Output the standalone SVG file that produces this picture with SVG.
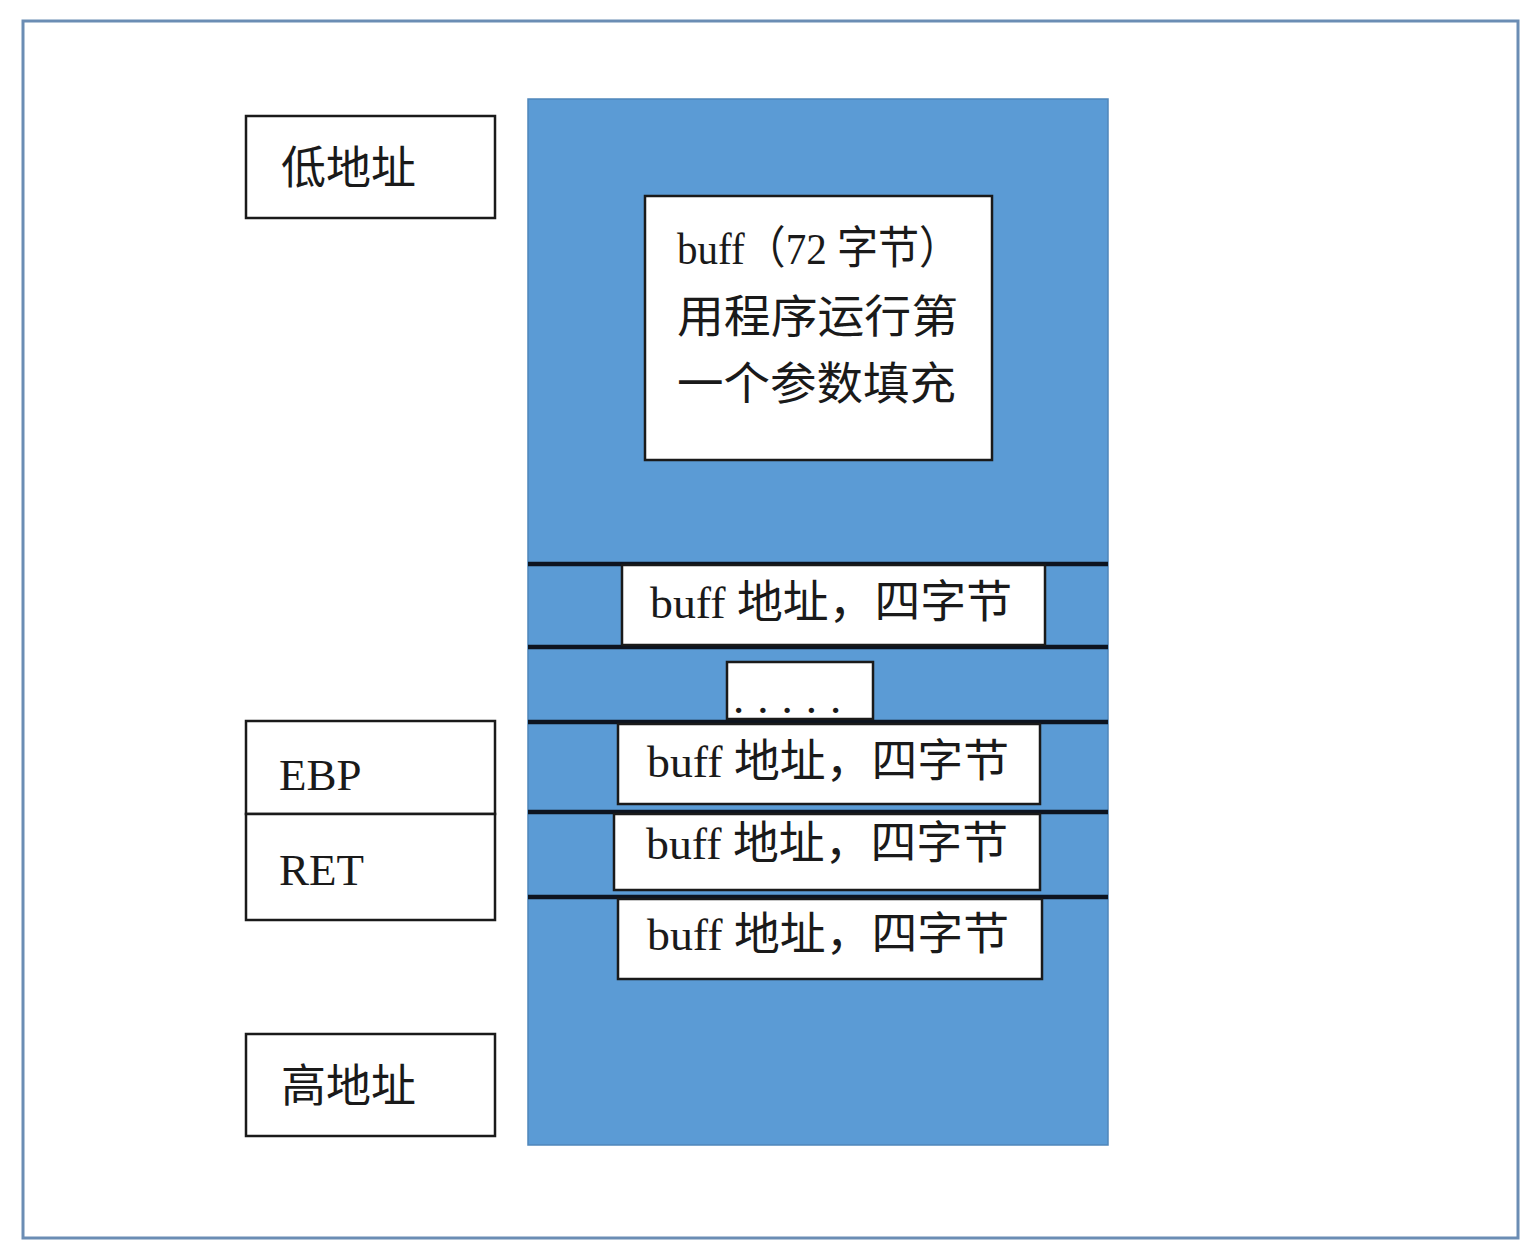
<svg xmlns="http://www.w3.org/2000/svg" width="1540" height="1260" viewBox="0 0 1540 1260">
<style>
.frame{fill:#ffffff;stroke:#6b8db4;stroke-width:3}
.col{fill:#5b9bd5;stroke:#4f86ba;stroke-width:1.5}
.box{fill:#ffffff;stroke:#1a1a1a;stroke-width:2.5}
.sep{stroke:#0d1420;stroke-width:4.5}
.t{font-family:"Liberation Serif","Noto Sans CJK SC",serif;font-size:45px;fill:#1a1a1a}
</style>
<rect width="1540" height="1260" fill="#ffffff"/>
<rect class="frame" x="23" y="21" width="1495" height="1217"/>
<g id="stack">
<rect class="col" x="528" y="99" width="580" height="1046"/>
</g>
<g id="separators">
<line class="sep" x1="528" y1="564" x2="1108" y2="564"/>
<line class="sep" x1="528" y1="647" x2="1108" y2="647"/>
<line class="sep" x1="528" y1="722" x2="1108" y2="722"/>
<line class="sep" x1="528" y1="812" x2="1108" y2="812"/>
<line class="sep" x1="528" y1="897" x2="1108" y2="897"/>
</g>
<g id="connectors"></g>
<g id="low-addr">
<rect class="box" x="246" y="116" width="249" height="102"/>
<text class="t" x="281" y="184">低地址</text>
</g>
<g id="ebp">
<rect class="box" x="246" y="721" width="249" height="93"/>
<text class="t" x="279" y="790">EBP</text>
</g>
<g id="ret">
<rect class="box" x="246" y="814" width="249" height="106"/>
<text class="t" x="279" y="885">RET</text>
</g>
<g id="high-addr">
<rect class="box" x="246" y="1034" width="249" height="102"/>
<text class="t" x="281" y="1102">高地址</text>
</g>
<g id="buff">
<rect class="box" x="645" y="196" width="347" height="264"/>
<text class="t" x="677" y="264" textLength="283" lengthAdjust="spacingAndGlyphs">buff（72 字节）</text>
<text class="t" x="677" y="333" textLength="281" lengthAdjust="spacingAndGlyphs">用程序运行第</text>
<text class="t" x="677" y="400" textLength="279" lengthAdjust="spacingAndGlyphs">一个参数填充</text>
</g>
<g id="addr1">
<rect class="box" x="622" y="565" width="423" height="80"/>
<text class="t" x="650" y="618" textLength="362" lengthAdjust="spacingAndGlyphs">buff 地址，四字节</text>
</g>
<g id="ellipsis">
<rect class="box" x="727" y="662" width="146" height="57"/>
<text class="t" x="733" y="713" letter-spacing="13">.....</text>
</g>
<g id="addr2">
<rect class="box" x="618" y="724" width="422" height="80"/>
<text class="t" x="647" y="777" textLength="362" lengthAdjust="spacingAndGlyphs">buff 地址，四字节</text>
</g>
<g id="addr3">
<rect class="box" x="614" y="814" width="426" height="76"/>
<text class="t" x="646" y="859" textLength="362" lengthAdjust="spacingAndGlyphs">buff 地址，四字节</text>
</g>
<g id="addr4">
<rect class="box" x="618" y="899" width="424" height="80"/>
<text class="t" x="647" y="950" textLength="362" lengthAdjust="spacingAndGlyphs">buff 地址，四字节</text>
</g>
</svg>
